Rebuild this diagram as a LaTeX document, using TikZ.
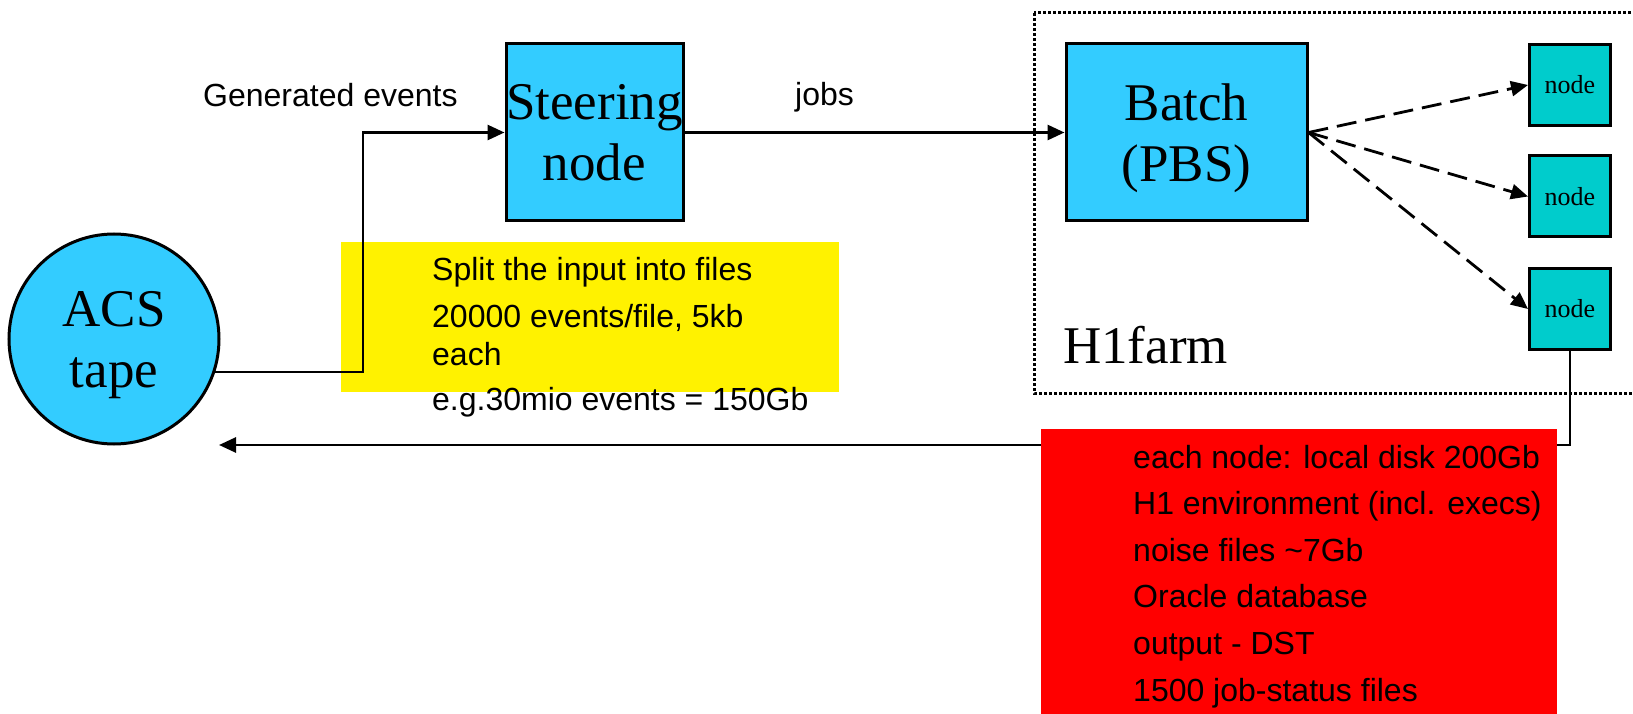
\documentclass[tikz,border=0pt]{standalone}
\usepackage{fontspec}
\setmainfont{Liberation Serif}
\setsansfont{Liberation Sans}
\usetikzlibrary{arrows.meta, calc, positioning}
\definecolor{skyblue}{HTML}{33CCFF}
\definecolor{farmteal}{HTML}{00CCCC}

\begin{document}
\begin{tikzpicture}[x=1pt, y=-1pt,
    >={Triangle[length=17pt,width=15pt]},
    bigbox/.style={draw, line width=3pt, fill=skyblue, align=center, inner sep=0pt,
      font=\fontsize{53}{61}\selectfont},
    farmnode/.style={draw, line width=3pt, fill=farmteal, minimum size=81pt, inner sep=0pt,
      font=\fontsize{26}{30}\selectfont},
    note/.style={anchor=base west, inner sep=0pt, font=\sffamily\fontsize{32}{40}\selectfont},
    flow/.style={->, line width=2.8pt},
    dispatch/.style={->, line width=2.8pt, dash pattern=on 20pt off 9pt}]
  \useasboundingbox (0,0) rectangle (1633,714);
  % H1farm frame
  \draw[line width=3pt, dash pattern=on 3pt off 2pt] (1034,13) rectangle (1660,393);
  \node[anchor=base west, inner sep=0pt, font=\fontsize{53}{61}\selectfont] (farm) at (1063,363) {H1farm};
  % input side
  \fill[yellow] (341,242) rectangle (839,392);
  \node[bigbox, circle, minimum size=210pt] (acs) at (114,339) {ACS\\\smash{tape}};
  \node[bigbox, minimum width=177pt, minimum height=177pt] (steer) at (594.5,132.5) {Steering\\node};
  \node[bigbox, minimum width=241pt, minimum height=177pt] (batch) at (1186.5,132.5) {Batch\\\smash{(PBS)}};
  \coordinate (turn) at (363,0);
  \draw[flow] (acs.-18) -| (turn |- steer.west) -- (steer.west);
  \node[note] (gen) at (203,107) {Generated events};
  \node[note] (jobs) at (795,106) {jobs};
  \draw[flow] (steer.east) -- (batch.west);
  \foreach \y/\t [count=\i] in {280/Split the input into files, 327/{20000 events/file, 5kb},
      365/each, 410/e.g.30mio events = 150Gb}
    \node[note] (split\i) at (432,\y) {\t};
  % worker nodes
  \foreach \y [count=\i] in {85,196.5,309} {
    \node[farmnode] (n\i) at (1570,\y) {node};
    \draw[dispatch] (batch.east) -- (n\i.west);
  }
  % output back to tape
  \coordinate (back) at (219,445);
  \draw[flow] (n3.south) |- (back);
  \fill[red] (1041,429) rectangle (1557,720);
  \foreach \t [count=\i from 0] in {each node: local disk 200Gb, H1 environment (incl. execs),
      noise files \textasciitilde7Gb, Oracle database, output - DST, 1500 job-status files}
    \node[note] (spec\i) at (1133,468+46.6*\i) {\t};
\end{tikzpicture}
\end{document}
